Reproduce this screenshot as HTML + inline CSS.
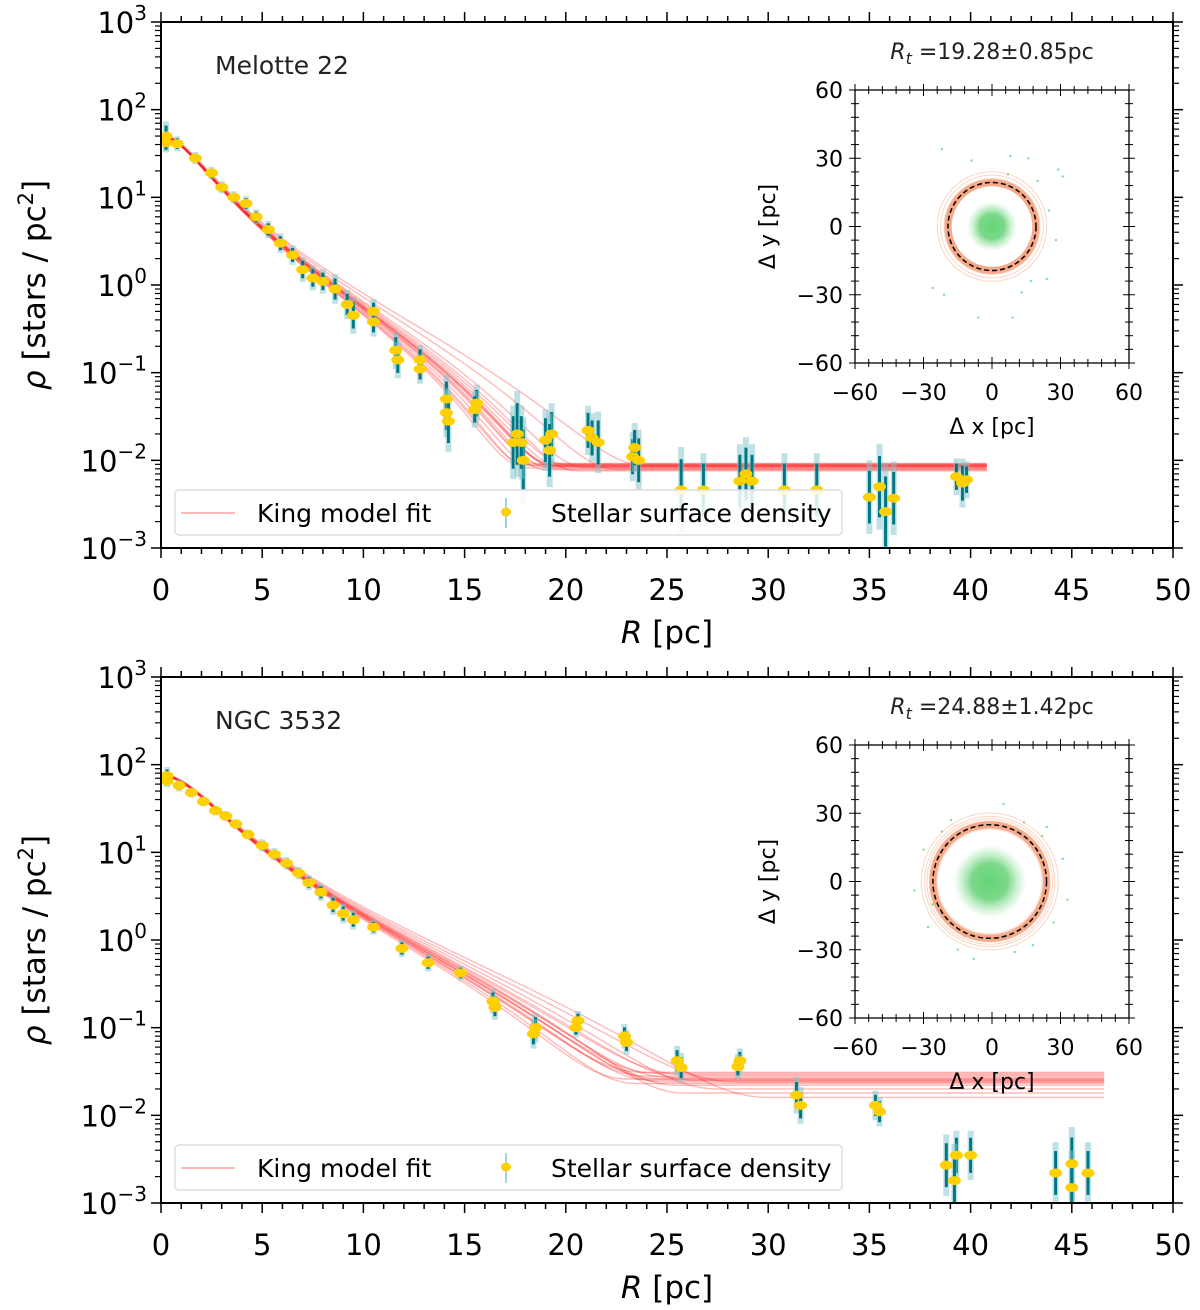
<!DOCTYPE html>
<html><head><meta charset="utf-8"><style>
body{margin:0;background:#fff}
svg{display:block;font-family:"DejaVu Sans","Liberation Sans",sans-serif}
</style></head><body>
<svg id="fig" width="1200" height="1310" viewBox="0 0 1200 1310" xmlns="http://www.w3.org/2000/svg"></svg>
<script>
// ---------- data: top panel (Melotte 22) ----------
const topR   = [0.25,0.25,0.8,1.7,2.5,3.0,3.6,4.2,4.7,5.3,5.9,6.5,7.0,7.5,8.0,8.6,9.2,9.5,10.5,10.5,11.6,11.7,12.8,12.8,14.1,14.1,14.2,15.6,15.5,17.4,17.6,17.9,17.8,19.0,19.3,19.2,21.1,21.3,21.6,23.3,23.6,23.4,25.7,26.8,28.6,28.9,29.2,30.8,32.4,35.0,35.5,35.8,36.2,39.3,39.6,39.8];
const topRho = [50,42,41,28,19,13,10,8.5,6,4.3,3.0,2.2,1.5,1.2,1.1,0.9,0.6,0.45,0.5,0.38,0.18,0.14,0.14,0.11,0.05,0.035,0.028,0.045,0.038,0.016,0.02,0.01,0.016,0.017,0.02,0.013,0.022,0.018,0.016,0.011,0.01,0.014,0.0046,0.0046,0.0058,0.007,0.0058,0.0046,0.0046,0.0038,0.005,0.0026,0.0037,0.0065,0.0055,0.006];
const topErr = [.12,.08,.06,.05,.05,.05,.05,.06,.06,.07,.08,.08,.1,.1,.1,.12,.12,.15,.1,.12,.15,.15,.12,.12,.2,.2,.25,.15,.15,.3,.35,.35,.3,.25,.25,.3,.2,.2,.25,.2,.25,.2,.35,.3,.3,.3,.3,.3,.3,.3,.35,.4,.3,.15,.2,.15];
const topFitRt = [17.8,18.2,18.5,18.8,19.0,19.1,19.3,19.4,19.6,19.8,20.1,20.5,21.0,18.0,19.5,22.5,24];
const topFitBg = [0.0088,0.0082,0.0086,0.009,0.0078,0.0084,0.0092,0.0087,0.008,0.0085,0.0089,0.0076,0.0083,0.0091,0.0086,0.0079,0.0087];
const topOutX = [-22,-9,8,16,29,31,20,25,-26,-21,-6,9,13,17,24,28,7];
const topOutY = [34,29,31,30,25,22,20,7,-27,-30,-40,-40,-29,-24,-23,-6,23];
// ---------- data: bottom panel (NGC 3532) ----------
const botR   = [0.3,0.3,0.9,1.5,2.1,2.7,3.2,3.7,4.3,5.0,5.6,6.2,6.8,7.3,7.9,8.5,9.0,9.5,10.5,11.9,13.2,14.8,16.4,16.5,18.5,18.4,20.6,20.5,22.9,23.0,25.5,25.7,28.6,28.5,31.4,31.6,35.3,35.5,38.8,39.3,39.2,40.0,44.2,45.0,45.0,45.8];
const botRho = [75,65,58,48,38,30,26,21,16,12,9.5,7.5,5.8,4.5,3.5,2.5,2.0,1.7,1.4,0.8,0.55,0.42,0.2,0.17,0.1,0.085,0.12,0.1,0.08,0.068,0.042,0.035,0.042,0.036,0.017,0.013,0.013,0.011,0.0027,0.0035,0.0018,0.0035,0.0022,0.0028,0.0015,0.0022];
const botErr = [.07,.05,.05,.04,.04,.04,.04,.04,.04,.05,.05,.05,.05,.06,.07,.08,.08,.08,.06,.07,.07,.06,.1,.1,.12,.12,.08,.08,.1,.1,.12,.12,.1,.1,.15,.15,.12,.12,.25,.2,.3,.2,.25,.3,.3,.25];
const botFitRt = [23,23.5,24,24.3,24.6,24.9,25.2,25.5,26,26.5,27.5,23.8,24.7,25.8,28.5,30];
const botFitBg = [0.026,0.023,0.028,0.025,0.03,0.024,0.027,0.022,0.029,0.025,0.02,0.031,0.026,0.018,0.024,0.016];
const botOutX = [-30,-26,-18,-22,-34,-12,14,22,31,27,-28,-15,10,18,24,33,-8,5];
const botOutY = [14,-10,27,22,-4,-24,26,20,10,-18,-20,-30,-31,-28,24,-8,-34,34];
const xTicks = [0,5,10,15,20,25,30,35,40,45,50];
const yExps = [-3,-2,-1,0,1,2,3];
const insetTicks = [-60,-30,0,30,60];

const NS="http://www.w3.org/2000/svg";
const svg=document.getElementById('fig');
function mk(tag,attrs,parent){const e=document.createElementNS(NS,tag);for(const k in attrs)e.setAttribute(k,attrs[k]);(parent||svg).appendChild(e);return e;}
function txt(s,attrs,parent){const e=mk('text',attrs,parent);e.textContent=s;return e;}

function panel(o){
  const L=161,Rr=1173,T=o.top,B=o.top+526;
  const g=mk('g',{});
  
  
  const X=r=>L+(r/50)*(Rr-L);
  const Y=v=>T+(3-Math.log10(v))/6*(B-T);
  const clipId='clip'+o.name;
  const cp=mk('clipPath',{id:clipId},g);mk('rect',{x:L,y:T,width:Rr-L,height:B-T},cp);
  const plot=mk('g',{'clip-path':'url(#'+clipId+')'},g);
  const fits=mk('g',{},plot);
  
  
  for(let i=0;i<o.rt.length;i++){
    const rt=o.rt[i],bg=o.bg[i],rc=o.rc;
    const ct=1/Math.sqrt(1+(rt/rc)**2);
    let d='';
    for(let r=0;r<=o.rmax;r+=0.2){
      const c=1/Math.sqrt(1+(r/rc)**2);
      const v=(r<rt?o.k*(c-ct)**2:0)+bg;
      d+=(d?'L':'M')+X(r).toFixed(1)+','+Y(v).toFixed(1);
    }
    const p=mk('path',{d:d,fill:'none',stroke:'#ff1a1a','stroke-opacity':0.3,'stroke-width':1.4},fits);
    
    
  }
  const pts=mk('g',{},plot);
  
  
  for(let i=0;i<o.R.length;i++){
    const x=X(o.R[i]),v=o.rho[i],e=o.err[i];
    mk('line',{x1:x,x2:x,y1:Y(v*Math.pow(10,e*1.4)),y2:Y(v/Math.pow(10,e*1.4)),stroke:'#7fc4cc','stroke-opacity':0.5,'stroke-width':6},pts);
    mk('line',{x1:x,x2:x,y1:Y(v*Math.pow(10,e)),y2:Y(v/Math.pow(10,e)),stroke:'#007884','stroke-width':3},pts);
  }
  for(let i=0;i<o.R.length;i++){
    const c=mk('ellipse',{cx:X(o.R[i]),cy:Y(o.rho[i]),rx:6.5,ry:4.5,fill:'#ffd000'},pts);
    
    
  }
  mk('rect',{x:L,y:T,width:Rr-L,height:B-T,fill:'none',stroke:'#000','stroke-width':2},g);
  for(let r=0;r<=50;r++){
    const x=X(r),maj=r%5===0,len=maj?10:6;
    mk('line',{x1:x,x2:x,y1:B,y2:B+len,stroke:'#000','stroke-width':1.5},g);
    mk('line',{x1:x,x2:x,y1:T,y2:T-len,stroke:'#000','stroke-width':1.5},g);
  }
  xTicks.forEach(r=>{const t=txt(String(r),{x:X(r),y:B+52,'font-size':29,'text-anchor':'middle'},g);
    });
  for(let e=-3;e<=3;e++){
    [L,Rr].forEach((xx,si)=>{
      const s=si===0?-1:1;
      mk('line',{x1:xx,x2:xx+s*10,y1:Y(10**e),y2:Y(10**e),stroke:'#000','stroke-width':1.5},g);
      if(e<3)for(let m=2;m<10;m++)mk('line',{x1:xx,x2:xx+s*6,y1:Y(m*10**e),y2:Y(m*10**e),stroke:'#000','stroke-width':1.2},g);
    });
  }
  yExps.forEach(e=>{
    const t=txt('',{x:L-14,y:Y(10**e)+11,'font-size':29,'text-anchor':'end'},g);
    
    const a=mk('tspan',{},t);a.textContent='10';
    const b=mk('tspan',{dy:-13,'font-size':20},t);b.textContent=e<0?'\u2212'+(-e):String(e);
  });
  const xl=txt('',{x:(L+Rr)/2,y:B+95,'font-size':31,'text-anchor':'middle'},g);
  
  const i1=mk('tspan',{'font-style':'italic'},xl);i1.textContent='R';
  const i2=mk('tspan',{},xl);i2.textContent=' [pc]';
  const yc=(T+B)/2;
  const yl=txt('',{x:0,y:0,'font-size':31,'text-anchor':'middle',transform:`translate(45,${yc}) rotate(-90)`},g);
  
  const j1=mk('tspan',{'font-style':'italic'},yl);j1.textContent='ρ';
  const j2=mk('tspan',{},yl);j2.textContent=' [stars / pc';
  const j3=mk('tspan',{dy:-12,'font-size':21},yl);j3.textContent='2';
  const j4=mk('tspan',{dy:12},yl);j4.textContent=']';
  const nm=txt(o.title,{x:215,y:T+52,'font-size':25,fill:'#222'},g);
  
  const lg=mk('g',{},g);
  
  const ly=T+468;
  mk('rect',{x:175,y:ly,width:667,height:45,rx:4,fill:'#fff','fill-opacity':0.85,stroke:'#ddd','stroke-width':1.5},lg);
  mk('line',{x1:181,x2:235,y1:ly+23,y2:ly+23,stroke:'#ff6060','stroke-opacity':0.6,'stroke-width':1.5},lg);
  const le1=txt('King model fit',{x:257,y:ly+32,'font-size':25},lg);
  
  mk('line',{x1:506,x2:506,y1:ly+8,y2:ly+38,stroke:'#7fc4cc','stroke-width':1.5},lg);
  mk('ellipse',{cx:506,cy:ly+22,rx:5,ry:4.5,fill:'#ffd000'},lg);
  const le2=txt('Stellar surface density',{x:551,y:ly+32,'font-size':25},lg);
  
  // inset
  const iL=855,iR=1129,iT=o.top+68,iB=iT+273;
  const ig=mk('g',{},g);
  
  mk('rect',{x:iL,y:iT,width:iR-iL,height:iB-iT,fill:'#fff'},ig);
  const IX=v=>iL+(v+60)/120*(iR-iL), IY=v=>iT+(60-v)/120*(iB-iT);
  const cx=IX(o.cx),cy=IY(o.cy),sc=(iR-iL)/120;
  const gid='grad'+o.name;
  const gr=mk('radialGradient',{id:gid},ig);
  mk('stop',{offset:'0%','stop-color':'#66d477','stop-opacity':1},gr);
  mk('stop',{offset:'50%','stop-color':'#74d784','stop-opacity':0.95},gr);
  mk('stop',{offset:'100%','stop-color':'#a8e6b0','stop-opacity':0},gr);
  mk('circle',{cx:cx,cy:cy,r:o.blob*sc,fill:`url(#${gid})`},ig);
  for(let i=0;i<o.ox.length;i++){const p=mk('rect',{x:IX(o.ox[i])-1,y:IY(o.oy[i])-1,width:2,height:2,fill:'#7ad98a'},ig);
    }
  o.rt.forEach(rt=>mk('circle',{cx:cx,cy:cy,r:rt*sc,fill:'none',stroke:'#f08a5a','stroke-opacity':0.35,'stroke-width':1},ig));
  mk('circle',{cx:cx,cy:cy,r:o.rtMain*sc,fill:'none',stroke:'#f4a582','stroke-width':7,'stroke-opacity':0.85},ig);
  const dc=mk('circle',{cx:cx,cy:cy,r:o.rtMain*sc,fill:'none',stroke:'#000','stroke-width':1.5,'stroke-dasharray':'5,3'},ig);
  
  mk('rect',{x:iL,y:iT,width:iR-iL,height:iB-iT,fill:'none',stroke:'#000','stroke-width':1.3},ig);
  for(let v=-60;v<=60;v+=6){
    const maj=v%30===0,l=maj?6:4;
    mk('line',{x1:IX(v),x2:IX(v),y1:iB-l,y2:iB+l,stroke:'#000','stroke-width':1},ig);
    mk('line',{x1:IX(v),x2:IX(v),y1:iT-l,y2:iT+l,stroke:'#000','stroke-width':1},ig);
    mk('line',{x1:iL-l,x2:iL+l,y1:IY(v),y2:IY(v),stroke:'#000','stroke-width':1},ig);
    mk('line',{x1:iR-l,x2:iR+l,y1:IY(v),y2:IY(v),stroke:'#000','stroke-width':1},ig);
  }
  insetTicks.forEach(v=>{
    const s=v<0?'\u2212'+(-v):String(v);
    const a=txt(s,{x:IX(v),y:iB+37,'font-size':22,'text-anchor':'middle'},ig);
    
    const b=txt(s,{x:iL-12,y:IY(v)+8,'font-size':22,'text-anchor':'end'},ig);
    
  });
  const ixl=txt('Δ x [pc]',{x:(iL+iR)/2,y:iB+71,'font-size':22,'text-anchor':'middle'},ig);
  
  const iyl=txt('Δ y [pc]',{x:0,y:0,'font-size':22,'text-anchor':'middle',transform:`translate(${iL-80},${(iT+iB)/2}) rotate(-90)`},ig);
  
  const rtl=txt('',{x:(iL+iR)/2,y:iT-31,'font-size':22,'text-anchor':'middle',fill:'#222'},ig);
  
  const r1=mk('tspan',{'font-style':'italic'},rtl);r1.textContent='R';
  const r2=mk('tspan',{'font-style':'italic',dy:5,'font-size':16},rtl);r2.textContent='t';
  const r3=mk('tspan',{dy:-5},rtl);r3.textContent=' ='+o.rtText+'pc';
}

panel({name:'melotte22',title:'Melotte 22',top:22,R:topR,rho:topRho,err:topErr,rt:topFitRt,bg:topFitBg,rc:2.0,k:62,rmax:40.9,
  cx:0,cy:0,blob:11,ox:topOutX,oy:topOutY,rtMain:19.28,rtText:'19.28±0.85'});
panel({name:'ngc3532',title:'NGC 3532',top:677,R:botR,rho:botRho,err:botErr,rt:botFitRt,bg:botFitBg,rc:2.5,k:93,rmax:46.8,
  cx:-1,cy:0,blob:16,ox:botOutX,oy:botOutY,rtMain:24.88,rtText:'24.88±1.42'});
</script>
</body></html>
